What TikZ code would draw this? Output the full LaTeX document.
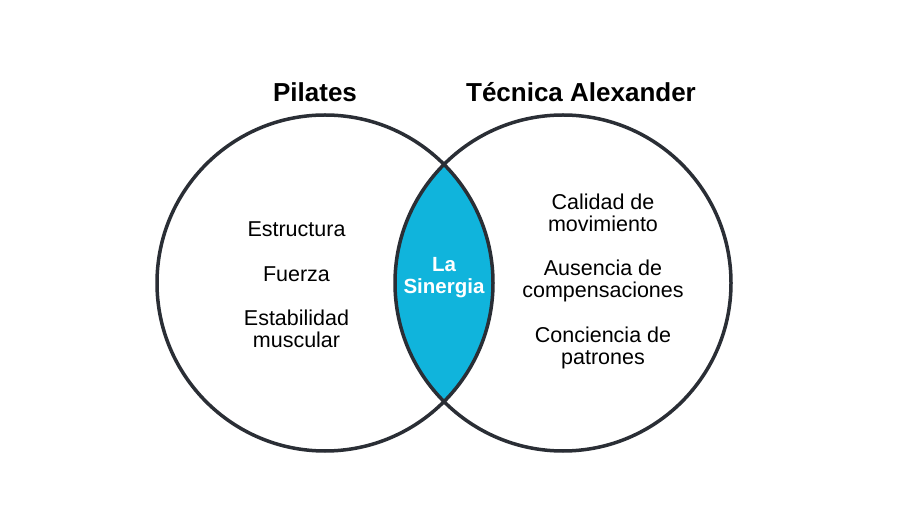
\documentclass[tikz,border=0pt]{standalone}
\usepackage{fontspec}
\setmainfont{Liberation Sans}
\usepackage{xcolor}
\usetikzlibrary{positioning}

\definecolor{ringline}{HTML}{2A2E35}
\definecolor{lensblue}{HTML}{10B4DC}

\begin{document}
\begin{tikzpicture}[
  x=1pt, y=-1pt,
  ring/.style={line width=3.5pt, draw=ringline},
  heading/.style={font=\fontsize{26}{30}\selectfont\bfseries,
    inner sep=0pt, anchor=base},
  item/.style={font=\fontsize{21.5}{22}\selectfont, align=center,
    inner sep=0pt, anchor=base},
  lenstext/.style={font=\fontsize{20.5}{22}\selectfont\bfseries,
    text=white, align=center, inner sep=0pt, anchor=base}
]
  \useasboundingbox[fill=white] (0,0) rectangle (905,510);
  \coordinate (pil) at (325,283);
  \coordinate (tec) at (563,283);

  % Overlap
  \begin{scope}
    \clip (pil) circle (168pt);
    \fill[lensblue] (tec) circle (168pt);
  \end{scope}

  % Circles
  \draw[ring] (pil) circle (168pt);
  \draw[ring] (tec) circle (168pt);

  % Headings
  \node[heading] (pilates) at (315,102) {Pilates};
  \node[heading] (tecnica) at (581,102) {Técnica Alexander};

  % Pilates side (base = last line)
  \node[item] (estructura) at (296.5,237) {Estructura};
  \node[item] (fuerza) at (296.5,281.5) {Fuerza};
  \node[item] (estabilidad) at (296.5,348) {Estabilidad\\muscular};

  % Alexander side
  \node[item] (calidad) at (603,232) {Calidad de\\movimiento};
  \node[item] (ausencia) at (603,298) {Ausencia de\\compensaciones};
  \node[item] (conciencia) at (603,365) {Conciencia de\\patrones};

  % Synergy
  \node[lenstext] (sinergia) at (444,294) {La\\Sinergia};
\end{tikzpicture}
\end{document}
